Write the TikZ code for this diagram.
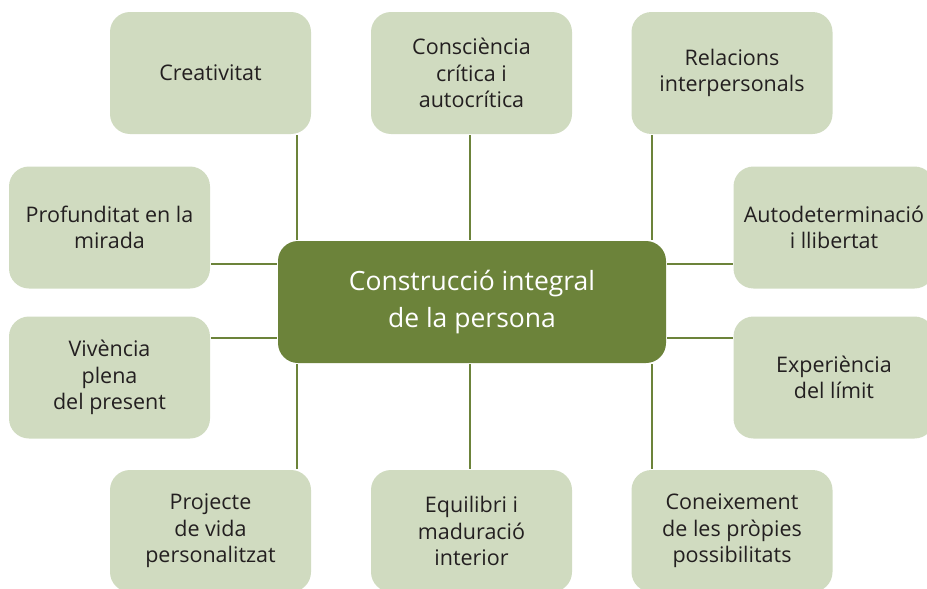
\documentclass[tikz,border=0pt]{standalone}
\usepackage{fontspec}
\setmainfont{Open Sans}
\usepackage{xcolor}
\usepackage{tikz}

\definecolor{leafdark}{HTML}{6C833A}
\definecolor{leaflight}{HTML}{D0DBC0}
\definecolor{inkgray}{HTML}{231F20}

\begin{document}
\begin{tikzpicture}[x=1pt, y=-1pt, line width=2pt,
        item/.style={fill=leaflight, rounded corners=20pt, minimum width=201pt, minimum height=122pt,
                     inner sep=0pt, align=center, text=inkgray, font=\fontsize{21.5}{26.5}\selectfont},
        core/.style={fill=leafdark, rounded corners=20pt, minimum width=388pt, minimum height=122pt,
                     inner sep=0pt, align=center, text=white, font=\fontsize{26.5}{37}\selectfont},
        link/.style={draw=leafdark}]
        \useasboundingbox (0,0) rectangle (927,589);

        \node[core] (core) at (472,302) {Construcció integral\\de la persona};

        \node[item] (crea) at (210.5,73) {Creativitat};
        \node[item] (cons) at (471.5,73) {Consciència\\crítica i\\autocrítica};
        \node[item] (rela) at (732,73) {Relacions\\interpersonals};
        \node[item] (prof) at (109.5,227.5) {Profunditat en la\\mirada};
        \node[item] (auto) at (834,227.5) {Autodeterminació\\i llibertat};
        \node[item] (vive) at (109.5,377.5) {Vivència\\plena\\del present};
        \node[item] (expe) at (834,377.5) {Experiència\\del límit};
        \node[item] (proj) at (210.5,531) {Projecte\\de vida\\personalitzat};
        \node[item] (equi) at (471.5,531) {Equilibri i\\maduració\\interior};
        \node[item] (cone) at (732,531) {Coneixement\\de les pròpies\\possibilitats};

        \coordinate (lx) at (297,0);
        \coordinate (mx) at (470,0);
        \coordinate (rx) at (652,0);
        \coordinate (uy) at (0,264);
        \coordinate (dy) at (0,338);

        \draw[link] (crea.south -| lx) -- (core.north -| lx);
        \draw[link] (cons.south -| mx) -- (core.north -| mx);
        \draw[link] (rela.south -| rx) -- (core.north -| rx);
        \draw[link] (prof.east |- uy) -- (core.west |- uy);
        \draw[link] (core.east |- uy) -- (auto.west |- uy);
        \draw[link] (vive.east |- dy) -- (core.west |- dy);
        \draw[link] (core.east |- dy) -- (expe.west |- dy);
        \draw[link] (core.south -| lx) -- (proj.north -| lx);
        \draw[link] (core.south -| mx) -- (equi.north -| mx);
        \draw[link] (core.south -| rx) -- (cone.north -| rx);
    \end{tikzpicture}
\end{document}
